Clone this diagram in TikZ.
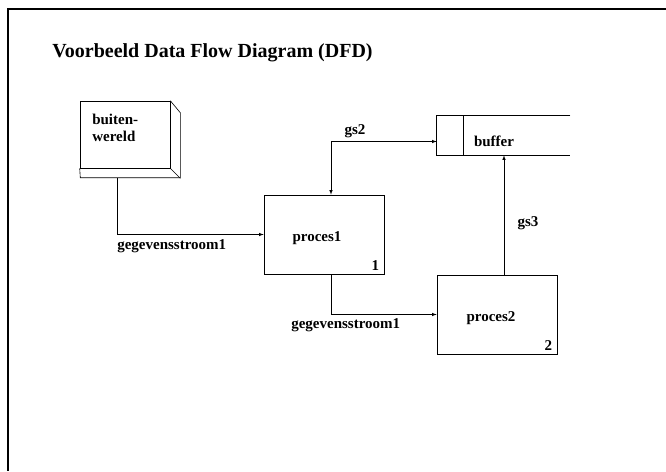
\documentclass[tikz,border=0pt]{standalone}
\usepackage{fontspec}
\setmainfont{Liberation Serif}
\usetikzlibrary{arrows}

\begin{document}
\begin{tikzpicture}[x=1pt,y=-1pt,>=latex,line width=0.6pt,
    proc/.style={draw,minimum width=120pt,minimum height=79pt,inner sep=0pt},
    lbl/.style={font=\fontsize{15}{17}\selectfont\bfseries,inner sep=0pt},
    titel/.style={font=\fontsize{20}{24}\selectfont\bfseries,inner sep=0pt}]

    \useasboundingbox (0,0) rectangle (666,471);
    \draw[line width=1.2pt] (666,9)--(8,9)--(8,471);

    \node[titel,anchor=base west] (title) at (52,57) {Voorbeeld Data Flow Diagram (DFD)};

    % externe entiteit
    \node[draw,minimum width=90pt,minimum height=67pt,inner sep=0pt] (buiten) at (125,134.5) {};
    \draw (buiten.north east)--++(10,12)--++(0,65)--++(-100,0)--(buiten.south west);
    \draw (buiten.south east)--++(10,10);
    \node[lbl,align=left,anchor=north west] (buitenlbl) at (92,114) {buiten-\\wereld};

    % processen
    \node[proc] (proces1) at (324,234.5) {};
    \node[lbl] (p1lbl) at (317,238) {proces1};
    \node[lbl,anchor=south east] (nr1) at ([xshift=-5pt,yshift=4pt]proces1.south east) {1};

    \node[proc] (proces2) at (497,314.5) {};
    \node[lbl] (p2lbl) at (491,318) {proces2};
    \node[lbl,anchor=south east] (nr2) at ([xshift=-5pt,yshift=4pt]proces2.south east) {2};

    % opslag
    \node[minimum width=133pt,minimum height=39pt,inner sep=0pt] (buffer) at (503.5,135.5) {};
    \draw (buffer.north east)--(buffer.north west)--(buffer.south west)--(buffer.south east);
    \draw ([xshift=27pt]buffer.north west)--([xshift=27pt]buffer.south west);
    \node[lbl] (bufferlbl) at (494,141) {buffer};

    % gegevensstromen
    \draw[->] ([xshift=-8pt,yshift=-10pt]buiten.south) |- (proces1.west);
    \node[lbl,anchor=west] (gs1a) at (117,246) {gegevensstroom1};

    \draw[<->] ([xshift=7pt]proces1.north) |- ([yshift=-6pt]buffer.west);
    \node[lbl] (gs2) at (355,131) {gs2};

    \draw[->] ([xshift=7pt]proces2.north)--([xshift=7pt]proces2.north |- buffer.south);
    \node[lbl] (gs3) at (528,223) {gs3};

    \draw[->] ([xshift=7pt]proces1.south) |- (proces2.west);
    \node[lbl,anchor=west] (gs1b) at (291,325) {gegevensstroom1};

\end{tikzpicture}
\end{document}
